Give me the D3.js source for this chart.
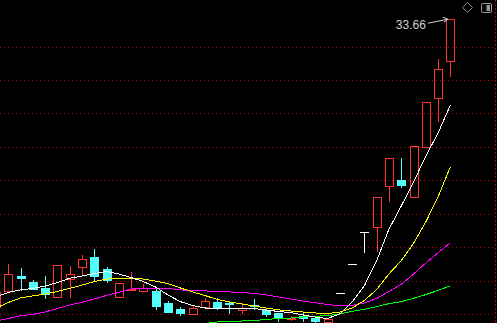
<!DOCTYPE html>
<html>
<head>
<meta charset="utf-8">
<script src="https://cdn.jsdelivr.net/npm/d3@7"></script>
<style>
  html, body { margin: 0; padding: 0; background: #000; overflow: hidden; }
  svg { display: block; }
</style>
</head>
<body>
<svg id="chart" width="497" height="323"></svg>
<script>
// daily bars, first one is cut by the left edge (index -1)
const opens  = [16.44, 17.39, 18.27, 17.93, 17.57, 17.03, 18.08, 18.83, 19.41, 18.67, 17.03, 17.42, 17.39,
                17.38, 16.64, 16.28, 15.98, 16.40, 16.74, 16.63, 16.24, 16.54, 16.24, 16.08, 15.68, 15.88,
                15.74, 15.52, 17.24, 18.97, 20.89, 21.18, 23.64, 24.01, 22.98, 25.99, 28.94, 31.15];
const highs  = [17.33, 18.99, 18.73, 18.03, 18.27, 18.93, 18.87, 19.53, 19.87, 18.83, 17.84, 18.49, 17.78,
                17.63, 16.78, 16.40, 16.48, 16.94, 16.94, 16.72, 16.64, 16.90, 16.30, 16.08, 15.88, 16.04,
                15.88, 15.76, 17.24, 18.97, 20.89, 22.98, 25.31, 25.31, 26.05, 28.66, 31.25, 33.66];
const lows   = [16.44, 17.39, 17.44, 17.48, 16.97, 17.03, 17.03, 18.33, 18.03, 17.93, 17.03, 17.42, 17.39,
                16.30, 16.09, 15.94, 15.98, 16.34, 16.28, 16.04, 16.08, 16.28, 15.88, 15.60, 15.64, 15.60,
                15.48, 15.52, 17.24, 18.97, 19.73, 19.79, 22.76, 23.61, 22.98, 25.99, 27.54, 30.25];
const closes = [17.33, 18.37, 18.13, 17.48, 17.21, 18.93, 18.37, 19.27, 18.30, 18.03, 17.84, 17.50, 17.54,
                16.48, 16.14, 16.08, 16.34, 16.78, 16.40, 16.57, 16.38, 16.45, 15.98, 15.80, 15.79, 15.74,
                15.60, 15.68, 17.24, 18.97, 20.89, 22.98, 25.31, 23.71, 26.05, 28.66, 30.63, 33.66];

// moving averages
const ma5  = [17.02, 17.29, 17.44, 17.53, 17.67, 17.88, 18.14, 18.27, 18.42, 18.54, 18.39, 18.18, 17.94,
              17.61, 17.14, 16.74, 16.51, 16.36, 16.33, 16.33, 16.33, 16.33, 16.24, 16.15, 16.08, 15.94,
              15.82, 15.73, 16.01, 16.72, 17.70, 19.20, 21.08, 22.46, 23.89, 25.45, 26.83, 28.50];
const ma10 = [16.36, 16.69, 16.96, 17.08, 17.20, 17.35, 17.53, 17.73, 17.94, 18.09, 18.12, 18.14, 18.09,
              17.97, 17.82, 17.56, 17.32, 17.11, 16.87, 16.72, 16.60, 16.48, 16.36, 16.25, 16.18, 16.12,
              16.06, 16.02, 16.12, 16.36, 16.81, 17.47, 18.40, 19.19, 20.22, 21.51, 23.01, 24.81];
const ma20 = [15.58, 15.73, 15.90, 15.98, 16.12, 16.33, 16.54, 16.69, 16.90, 17.11, 17.29, 17.50, 17.54,
              17.53, 17.53, 17.44, 17.41, 17.38, 17.35, 17.32, 17.29, 17.23, 17.14, 17.02, 16.90, 16.78,
              16.67, 16.57, 16.48, 16.51, 16.66, 16.93, 17.35, 17.78, 18.39, 19.05, 19.66, 20.26];
const ma60 = [null, null, null, null, null, null, null, null, null, null, null, null, null,
              null, null, null, 15.38, 15.43, 15.52, 15.55, 15.58, 15.61, 15.67, 15.73, 15.76, 15.82,
              15.86, 15.91, 16.00, 16.16, 16.28, 16.44, 16.62, 16.74, 16.94, 17.16, 17.41, 17.69];

const gridPrices = [16, 18, 20, 22, 24, 26, 28, 30, 32];
const maColors = ['#ffffff', '#ffff00', '#ff00ff', '#00ff00'];
const UP = '#ff3232', DOWN = '#54fcfc', FLAT = '#ffffff';

const W = 497, H = 323;
const svg = d3.select('#chart');
svg.append('rect').attr('width', W).attr('height', H).attr('fill', '#000');

const x = d3.scaleLinear().domain([-1, 36]).range([-3.98, 450.4]);
const y = d3.scaleLinear().domain([16, 32]).range([314, 46.5]);
const px = v => Math.round(v) + 0.5;

// dotted price grid
svg.append('g').attr('shape-rendering', 'crispEdges')
  .selectAll('line').data(gridPrices).join('line')
  .attr('x1', 0).attr('x2', W - 2)
  .attr('y1', d => px(y(d))).attr('y2', d => px(y(d)))
  .attr('stroke', '#c00000').attr('stroke-width', 1)
  .attr('stroke-dasharray', '1,3');

// right frame edge
svg.append('line')
  .attr('shape-rendering', 'crispEdges')
  .attr('x1', W - 1.5).attr('x2', W - 1.5).attr('y1', 0).attr('y2', H)
  .attr('stroke', '#b00000').attr('stroke-dasharray', '2,2');

const bars = opens.map((o, i) => ({ i: i - 1, o, h: highs[i], l: lows[i], c: closes[i] }));
const cg = svg.append('g').attr('shape-rendering', 'crispEdges');

bars.forEach(b => {
  const cx = Math.round(x(b.i));
  const top = Math.round(y(Math.max(b.o, b.c)));
  const bot = Math.round(y(Math.min(b.o, b.c)));
  const hi = Math.round(y(b.h)), lo = Math.round(y(b.l));
  const g = cg.append('g');
  if (b.o === b.c) {
    g.append('line').attr('x1', cx + 0.5).attr('x2', cx + 0.5).attr('y1', hi).attr('y2', lo + 1)
      .attr('stroke', FLAT);
    g.append('line').attr('x1', cx - 4).attr('x2', cx + 5).attr('y1', top + 0.5).attr('y2', top + 0.5)
      .attr('stroke', FLAT);
    return;
  }
  const up = b.c > b.o;
  const col = up ? UP : DOWN;
  if (up) {
    // hollow body, wick only outside it
    if (hi < top) g.append('line').attr('x1', cx + 0.5).attr('x2', cx + 0.5).attr('y1', hi).attr('y2', top)
      .attr('stroke', col);
    if (lo > bot) g.append('line').attr('x1', cx + 0.5).attr('x2', cx + 0.5).attr('y1', bot).attr('y2', lo + 1)
      .attr('stroke', col);
    g.append('rect').attr('x', cx - 3.5).attr('y', top + 0.5)
      .attr('width', 8).attr('height', Math.max(1, bot - top))
      .attr('fill', 'none').attr('stroke', col);
  } else {
    g.append('line').attr('x1', cx + 0.5).attr('x2', cx + 0.5).attr('y1', hi).attr('y2', lo + 1)
      .attr('stroke', col);
    g.append('rect').attr('x', cx - 4).attr('y', top)
      .attr('width', 9).attr('height', Math.max(1, bot - top + 1))
      .attr('fill', col);
  }
});

// moving average lines, drawn hard-edged like the terminal does
const line = d3.line()
  .defined(d => d != null)
  .x((d, i) => x(i - 1))
  .y(d => y(d));
[ma60, ma20, ma10, ma5].forEach((s, k) => {
  svg.append('path').datum(s)
    .attr('d', line)
    .attr('fill', 'none')
    .attr('stroke', maColors[3 - k])
    .attr('stroke-width', 1)
    .attr('shape-rendering', 'crispEdges');
});

// highest price marker
const last = bars[bars.length - 1];
const hx = x(last.i) - 2.5, hy = y(last.h) + 0.5;
svg.append('text')
  .attr('x', hx - 22).attr('y', hy + 9.5)
  .attr('text-anchor', 'end')
  .attr('font-family', 'Liberation Sans, Arial, sans-serif')
  .attr('font-size', 12)
  .attr('fill', '#cfcfcf')
  .text(d3.format('.2f')(last.h));
svg.append('line')
  .attr('x1', hx - 20).attr('y1', hy + 4).attr('x2', hx).attr('y2', hy)
  .attr('stroke', '#cfcfcf');
svg.append('path')
  .attr('d', `M${hx - 5},${hy - 2} L${hx},${hy} L${hx - 4},${hy + 3}`)
  .attr('fill', 'none').attr('stroke', '#cfcfcf');

// little toolbar icons at the top right
svg.append('path')
  .attr('d', 'M467.5,2.5 L472.5,7.5 L467.5,12.5 L462.5,7.5 Z')
  .attr('fill', 'none').attr('stroke', '#8a8a8a');
svg.append('rect')
  .attr('x', 481.5).attr('y', 3.5).attr('width', 10).attr('height', 9).attr('rx', 1.5)
  .attr('fill', 'none').attr('stroke', '#9a9a9a');
svg.append('rect')
  .attr('x', 486.5).attr('y', 5).attr('width', 3.5).attr('height', 6)
  .attr('fill', '#9a9a9a');
</script>
</body>
</html>
